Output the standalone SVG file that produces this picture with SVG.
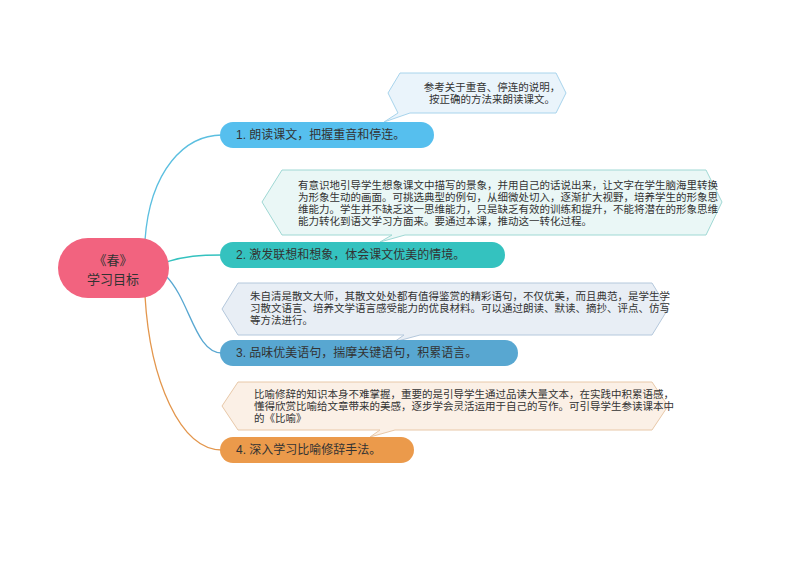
<svg xmlns="http://www.w3.org/2000/svg" width="794" height="561" viewBox="0 0 794 561">
<style>
text{font-family:"Liberation Sans","Noto Sans CJK SC",sans-serif;fill:#333}
.t{font-size:12px}
.c{font-size:10.5px}
.cn path{fill:none;stroke-width:1.3}
</style>
<rect width="794" height="561" fill="#fff"/>
<g class="cn">
<path d="M145 240 C150 170 185 135 222 135" stroke="#5bbfe0"/>
<path d="M166 262 C185 256 200 255 222 255" stroke="#34c2bf"/>
<path d="M166 276 C190 300 195 353 222 353" stroke="#58a7d1"/>
<path d="M145 296 C150 380 180 450 222 450" stroke="#e3964c"/>
</g>
<g id="root"><rect x="58" y="238" width="111" height="60" rx="30" fill="#f2637f"/>
<text x="113" y="265" text-anchor="middle" class="t" style="font-size:13px">《春》</text>
<text x="113" y="284" text-anchor="middle" class="t" style="font-size:13px">学习目标</text></g>
<g id="n1c"><path d="M400 73 L556 73 L566 93 L556 113 L410 113 L384 122 L398 113 L388 93 Z" fill="#eaf4fb" stroke="#a8d4ec"/>
<text x="492" y="91" text-anchor="middle" class="c">参考关于重音、停连的说明，</text>
<text x="492" y="103" text-anchor="middle" class="c">按正确的方法来朗读课文。</text></g>
<g id="n1"><rect x="220" y="122" width="214" height="26" rx="13" fill="#56bfee"/><text x="236" y="139" class="t">1. 朗读课文，把握重音和停连。</text></g>
<g id="n2c"><path d="M282 170 L706 170 L722 202 L706 235 L405 235 L380 242 L392 235 L282 235 L262 202 Z" fill="#eaf7f6" stroke="#9fd8d4"/>
<text class="c"><tspan x="298" y="189">有意识地引导学生想象课文中描写的景象，并用自己的话说出来，让文字在学生脑海里转换</tspan><tspan x="298" y="201">为形象生动的画面。可挑选典型的例句，从细微处切入，逐渐扩大视野，培养学生的形象思</tspan><tspan x="298" y="213">维能力。学生并不缺乏这一思维能力，只是缺乏有效的训练和提升，不能将潜在的形象思维</tspan><tspan x="298" y="225">能力转化到语文学习方面来。要通过本课，推动这一转化过程。</tspan></text></g>
<g id="n2"><rect x="220" y="242" width="285" height="26" rx="13" fill="#34c2bf"/><text x="236" y="259" class="t">2. 激发联想和想象，体会课文优美的情境。</text></g>
<g id="n3c"><path d="M238 283 L652 283 L668 309 L652 335 L420 335 L394 342 L404 335 L238 335 L222 309 Z" fill="#e8eef5" stroke="#b4c8dc"/>
<text class="c"><tspan x="250" y="300">朱自清是散文大师，其散文处处都有值得鉴赏的精彩语句，不仅优美，而且典范，是学生学</tspan><tspan x="250" y="312">习散文语言、培养文学语言感受能力的优良材料。可以通过朗读、默读、摘抄、评点、仿写</tspan><tspan x="250" y="324">等方法进行。</tspan></text></g>
<g id="n3"><rect x="220" y="340" width="298" height="26" rx="13" fill="#58a7d1"/><text x="236" y="357" class="t">3. 品味优美语句，揣摩关键语句，积累语言。</text></g>
<g id="n4c"><path d="M238 382 L652 382 L668 406 L652 430 L395 430 L370 437 L380 430 L238 430 L222 406 Z" fill="#fbf0e6" stroke="#e8c8a8"/>
<text class="c"><tspan x="254" y="398">比喻修辞的知识本身不难掌握，重要的是引导学生通过品读大量文本，在实践中积累语感，</tspan><tspan x="254" y="410">懂得欣赏比喻给文章带来的美感，逐步学会灵活运用于自己的写作。可引导学生参读课本中</tspan><tspan x="254" y="422">的《比喻》</tspan></text></g>
<g id="n4"><rect x="220" y="437" width="194" height="26" rx="13" fill="#eb9a4b"/><text x="236" y="454" class="t">4. 深入学习比喻修辞手法。</text></g>
</svg>
